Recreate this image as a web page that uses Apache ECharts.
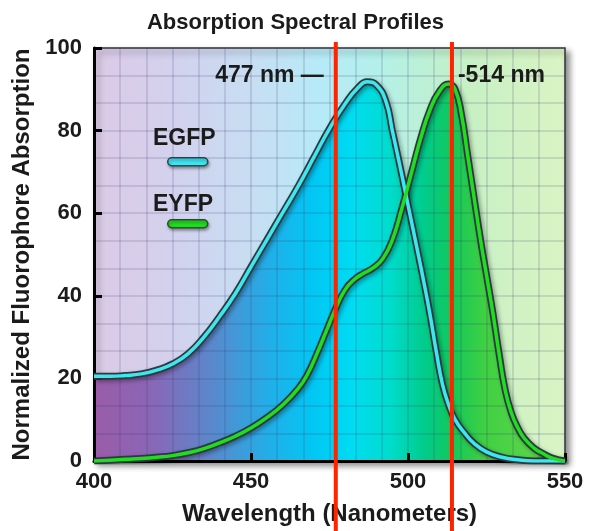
<!DOCTYPE html>
<html>
<head>
<meta charset="utf-8">
<title>Absorption Spectral Profiles</title>
<style>
  html, body { margin: 0; padding: 0; background: #ffffff; }
  #chart { width: 591px; height: 531px; }
</style>
<script src="https://cdn.jsdelivr.net/npm/echarts@6/dist/echarts.min.js"></script>
</head>
<body>
<div id="chart"></div>
<script>
// ---- Chart text ----
const chartTitle = 'Absorption Spectral Profiles';
const xAxisName = 'Wavelength (Nanometers)';
const yAxisName = 'Normalized Fluorophore Absorption';
const seriesNames = ['EGFP', 'EYFP'];

// ---- Axis ticks ----
const xTicks = [400, 450, 500, 550];
const yTicks = [0, 20, 40, 60, 80, 100];

// ---- EGFP absorption spectrum (wavelength nm, normalized absorption) ----
const egfpNm  = [400, 405, 410, 415, 420, 425, 430, 435, 440, 445, 450, 455, 460, 465, 470, 475, 480, 484, 487, 490, 493, 495, 497, 500, 503, 505, 507, 509, 511, 513, 515, 518, 521, 525, 530, 535, 540, 550];
const egfpAbs = [20.5, 20.5, 20.7, 21.1, 22.0, 23.5, 26.0, 30.0, 35.0, 40.5, 47.0, 53.5, 60.0, 66.5, 73.5, 80.5, 86.5, 90.3, 91.8, 91.0, 87.0, 80.0, 73.0, 62.0, 51.0, 43.5, 35.5, 26.5, 18.5, 13.5, 10.0, 6.8, 4.3, 2.2, 0.9, 0.3, 0, 0];

// ---- EYFP absorption spectrum ----
const eyfpNm  = [400, 405, 410, 415, 420, 425, 430, 435, 440, 445, 450, 455, 460, 465, 468, 471, 474, 477, 480, 483, 486, 489, 492, 495, 498, 501, 504, 507, 510, 513, 515, 517, 519, 521, 523, 525, 527, 529, 531, 533, 535, 537, 540, 543, 546, 550];
const eyfpAbs = [0, 0.2, 0.4, 0.6, 0.9, 1.3, 2.0, 3.0, 4.4, 6.0, 8.0, 10.5, 13.5, 17.5, 21.0, 26.0, 31.5, 37.0, 41.5, 44.0, 45.5, 46.8, 49.0, 53.5, 61.0, 69.5, 78.0, 85.0, 89.5, 91.3, 90.0, 84.0, 74.0, 64.0, 54.0, 45.0, 36.0, 26.0, 17.0, 11.5, 8.0, 5.5, 3.2, 1.8, 0.7, 0];

// ---- Excitation laser lines ----
const laserNm = [477, 514];
const laserLabels = ['477 nm', '514 nm'];

const FONT = '"Liberation Sans", Arial, Helvetica, sans-serif';
const TEXT_COLOR = '#1b1b1b';
const SMOOTH = 0.5;

const toPairs = (xs, ys) => xs.map((x, i) => [x, ys[i]]);
const egfpData = toPairs(egfpNm, egfpAbs);
const eyfpData = toPairs(eyfpNm, eyfpAbs);

// Pale spectrum wash behind the curves
const paleSpectrum = () => new echarts.graphic.LinearGradient(0, 0, 1, 0, [
  { offset: 0.00, color: '#dccae6' },
  { offset: 0.18, color: '#d2d2ee' },
  { offset: 0.33, color: '#c8ddf2' },
  { offset: 0.48, color: '#b6eaf8' },
  { offset: 0.60, color: '#b4f0ea' },
  { offset: 0.70, color: '#bcf0d6' },
  { offset: 0.80, color: '#c8f0c4' },
  { offset: 1.00, color: '#daf4c4' }
]);

// Saturated spectrum used under the absorption curves
const deepSpectrum = () => new echarts.graphic.LinearGradient(0, 0, 1, 0, [
  { offset: 0.00, color: '#9a5ca8' },
  { offset: 0.12, color: '#8a66b6' },
  { offset: 0.25, color: '#5a88cc' },
  { offset: 0.37, color: '#22aee8' },
  { offset: 0.47, color: '#00c8f4' },
  { offset: 0.55, color: '#00dcf2' },
  { offset: 0.63, color: '#00dccc' },
  { offset: 0.70, color: '#00cc8c' },
  { offset: 0.76, color: '#12c85a' },
  { offset: 0.83, color: '#40d042' },
  { offset: 1.00, color: '#6cd850' }
]);

const gridLineStyle = { color: 'rgba(50, 50, 100, 0.14)', width: 2 };

function areaSeries(name, data) {
  return {
    name: name + ' area',
    type: 'line',
    data: data,
    smooth: SMOOTH,
    showSymbol: false,
    silent: true,
    z: 2,
    lineStyle: { width: 0 },
    areaStyle: { color: deepSpectrum(), opacity: 1 }
  };
}

function outlineSeries(name, data) {
  return {
    name: name + ' outline',
    type: 'line',
    data: data,
    smooth: SMOOTH,
    showSymbol: false,
    silent: true,
    z: 4,
    lineStyle: {
      width: 7,
      color: '#2a3a3e',
      shadowColor: 'rgba(0,0,0,0.35)',
      shadowBlur: 4,
      shadowOffsetX: 2,
      shadowOffsetY: 2
    }
  };
}

function coreSeries(name, data, color) {
  return {
    name: name,
    type: 'line',
    data: data,
    smooth: SMOOTH,
    showSymbol: false,
    silent: true,
    z: 5,
    lineStyle: { width: 3.5, color: color }
  };
}

const chart = echarts.init(document.getElementById('chart'), null, { renderer: 'canvas' });

const option = {
  animation: false,
  backgroundColor: '#ffffff',
  title: {
    text: chartTitle,
    left: 'center',
    top: 7,
    textStyle: { fontFamily: FONT, fontWeight: 'bold', fontSize: 22, color: TEXT_COLOR }
  },
  grid: {
    left: 94,
    right: 26,
    top: 48,
    bottom: 69,
    show: true,
    backgroundColor: paleSpectrum(),
    borderColor: '#3a3a3a',
    borderWidth: 1.5,
    shadowColor: 'rgba(0,0,0,0.45)',
    shadowBlur: 6,
    shadowOffsetX: 4,
    shadowOffsetY: 4
  },
  xAxis: {
    type: 'value',
    min: xTicks[0],
    max: xTicks[xTicks.length - 1],
    interval: xTicks[1] - xTicks[0],
    z: 3,
    name: xAxisName,
    nameLocation: 'middle',
    nameGap: 41,
    nameTextStyle: { fontFamily: FONT, fontWeight: 'bold', fontSize: 24, color: TEXT_COLOR },
    axisLine: { show: true, lineStyle: { color: '#000', width: 3 } },
    axisTick: { show: true, inside: true, length: 8, lineStyle: { color: '#000', width: 3 } },
    axisLabel: { margin: 10, fontFamily: FONT, fontWeight: 'bold', fontSize: 22, color: TEXT_COLOR, showMinLabel: true, showMaxLabel: true },
    splitLine: { show: true, lineStyle: gridLineStyle },
    minorTick: { show: false, splitNumber: 6 },
    minorSplitLine: { show: true, lineStyle: gridLineStyle }
  },
  yAxis: {
    type: 'value',
    min: yTicks[0],
    max: yTicks[yTicks.length - 1],
    interval: yTicks[1] - yTicks[0],
    z: 3,
    name: yAxisName,
    nameLocation: 'middle',
    nameGap: 58,
    nameRotate: 90,
    nameTextStyle: { fontFamily: FONT, fontWeight: 'bold', fontSize: 24, color: TEXT_COLOR },
    axisLine: { show: true, lineStyle: { color: '#000', width: 3 } },
    axisTick: { show: true, inside: true, length: 8, lineStyle: { color: '#000', width: 3 } },
    axisLabel: { margin: 12, fontFamily: FONT, fontWeight: 'bold', fontSize: 22, color: TEXT_COLOR },
    splitLine: { show: true, lineStyle: gridLineStyle },
    minorTick: { show: false, splitNumber: 3 },
    minorSplitLine: { show: true, lineStyle: gridLineStyle }
  },
  graphic: [
    { type: 'text', left: 153, top: 127, z: 10,
      style: { text: seriesNames[0], font: 'bold 23px ' + FONT, fill: TEXT_COLOR } },
    { type: 'rect', left: 167, top: 157, z: 10,
      shape: { width: 40, height: 8, r: 4 },
      style: { fill: '#3ee6f0', stroke: '#27434a', lineWidth: 1.5,
               shadowColor: 'rgba(0,0,0,0.35)', shadowBlur: 3, shadowOffsetX: 1, shadowOffsetY: 2 } },
    { type: 'text', left: 153, top: 193, z: 10,
      style: { text: seriesNames[1], font: 'bold 23px ' + FONT, fill: TEXT_COLOR } },
    { type: 'rect', left: 167, top: 219, z: 10,
      shape: { width: 40, height: 8, r: 4 },
      style: { fill: '#22dc22', stroke: '#284a28', lineWidth: 1.5,
               shadowColor: 'rgba(0,0,0,0.35)', shadowBlur: 3, shadowOffsetX: 1, shadowOffsetY: 2 } }
  ],
  series: [
    areaSeries(seriesNames[0], egfpData),
    areaSeries(seriesNames[1], eyfpData),
    outlineSeries(seriesNames[0], egfpData),
    outlineSeries(seriesNames[1], eyfpData),
    coreSeries(seriesNames[0], egfpData, '#3ee6f0'),
    coreSeries(seriesNames[1], eyfpData, '#22dc22'),
    {
      name: 'Laser lines',
      type: 'custom',
      clip: false,
      silent: true,
      z: 8,
      data: laserNm.map(nm => [nm, 0]),
      renderItem: function (params, api) {
        const nm = api.value(0);
        const top = api.coord([nm, 100]);
        const labelAt = api.coord([nm, 93.2]);
        const leftSide = params.dataIndex === 0;
        const text = leftSide ? laserLabels[params.dataIndex] + ' \u2014' : '-' + laserLabels[params.dataIndex];
        return {
          type: 'group',
          children: [
            {
              type: 'line',
              shape: { x1: top[0], y1: top[1] - 6, x2: top[0], y2: api.getHeight() },
              style: { stroke: '#ff2400', lineWidth: 4 }
            },
            {
              type: 'text',
              x: leftSide ? top[0] - 12 : top[0] + 6,
              y: labelAt[1],
              style: {
                text: text,
                align: leftSide ? 'right' : 'left',
                verticalAlign: 'middle',
                font: 'bold 23px ' + FONT,
                fill: TEXT_COLOR
              }
            }
          ]
        };
      }
    }
  ]
};

chart.setOption(option);
</script>
</body>
</html>
